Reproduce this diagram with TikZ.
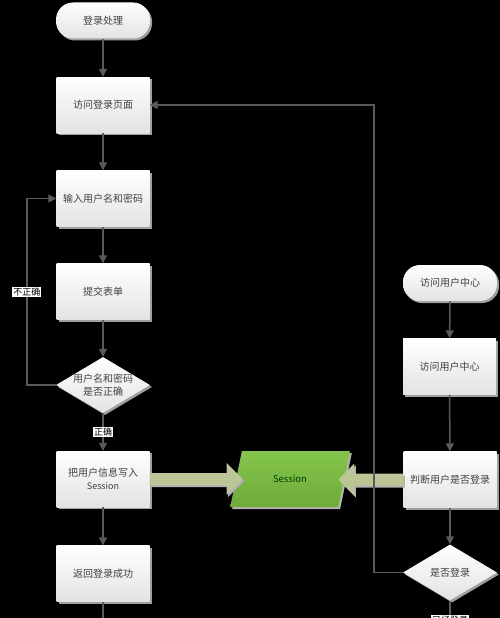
\documentclass[tikz,border=0pt]{standalone}
\usepackage{fontspec}
\setmainfont{Noto Sans CJK SC}
\usetikzlibrary{shapes.geometric,arrows.meta,shadows,calc}
\definecolor{linegray}{HTML}{5A5A5A}
\definecolor{txtgray}{HTML}{404040}
\definecolor{sessgreen}{HTML}{7DC242}
\definecolor{blockol}{HTML}{BCC596}
\begin{document}
\begin{tikzpicture}[x=1pt,y=-1pt,
  shade/.style={drop shadow={shadow xshift=2pt,shadow yshift=-2pt,fill=gray!75,opacity=1}},
  box/.style={rectangle,minimum width=93pt,minimum height=56pt,inner sep=0pt,
    top color=white,bottom color=gray!22,shade,text=txtgray,
    font=\fontsize{10}{13}\selectfont,align=center},
  term/.style={box,rounded corners=17pt,minimum width=94pt,minimum height=36pt},
  decision/.style={diamond,minimum width=94pt,minimum height=56pt,inner sep=0pt,
    top color=white,bottom color=gray!22,shade},
  dtext/.style={text=txtgray,font=\fontsize{10}{13}\selectfont,align=center},
  tag/.style={fill=white,text=black,inner sep=1pt,font=\fontsize{9}{10}\selectfont},
  link/.style={draw=linegray,line width=1.5pt},
  flow/.style={link,-{Triangle[width=8pt,length=8pt]}},
  blockarrow/.style={fill=blockol,drop shadow={shadow xshift=1.5pt,shadow yshift=-2pt,fill=gray!60,opacity=1}},
  datanode/.style={trapezium,trapezium left angle=61,trapezium right angle=119,
    trapezium stretches=true,minimum width=120pt,minimum height=56pt,inner sep=0pt,
    top color=sessgreen!95!white,bottom color=sessgreen!88!black,
    drop shadow={shadow xshift=2pt,shadow yshift=-2pt,fill=gray!60,opacity=1},
    text=black!75!green,font=\fontsize{9.5}{11}\selectfont}]
\fill[black] (0,0) rectangle (500,618);
\useasboundingbox (0,0) rectangle (500,618);

% left column
\node[term] (start) at (103,20.5) {登录处理};
\node[box] (v) at (103,105) {访问登录页面};
\node[box] (in) at (103,198.5) {输入用户名和密码};
\node[box] (sub) at (103,291.5) {提交表单};
\node[decision] (d1) at (103,385) {};
\node[dtext] at (d1.center) {用户名和密码\\是否正确};
\node[box] (w) at (103,479) {把用户信息写入\\{\fontsize{9}{11}\selectfont Session}};
\node[box] (ret) at (103,573.5) {返回登录成功};
\coordinate (retEnd) at (103,640);

% right column
\node[term] (ustart) at (450,283) {访问用户中心};
\node[box] (uc) at (449.5,366.5) {访问用户中心};
\node[box] (j) at (450,479.5) {判断用户是否登录};
\node[decision] (d2) at (450,572.5) {};
\node[dtext] at (d2.center) {是否登录};
\coordinate (d2End) at (450,640);

% session
\node[datanode] (s) at (290,479) {Session};

% block arrows
\fill[blockarrow] ($(w.east)+(0,-6)$) -- ++(77,0) -- ++(0,-10) -- ++(16,16) -- ++(-16,16) -- ++(0,-10) -- ++(-77,0) -- cycle;
\fill[blockarrow] ($(j.west)+(0,-6)$) -- ++(-49,0) -- ++(0,-10) -- ++(-16,16) -- ++(16,16) -- ++(0,-10) -- ++(49,0) -- cycle;

% connectors
\draw[flow] (start) -- (v);
\draw[flow] (v) -- (in);
\draw[flow] (in) -- (sub);
\draw[flow] (sub) -- (d1);
\draw[flow] (d1.south) -- (w.north) node[tag,midway] {正确};
\draw[flow] (d1.west) -- ++(-29,0) |- (in.west) node[tag,pos=0.25] {不正确};
\draw[flow] (w) -- (ret);
\draw[flow] (ret) -- (retEnd);

\draw[flow] (ustart) -- (uc);
\draw[flow] (uc) -- (j);
\draw[flow] (j) -- (d2);
\draw[flow] (d2.west) -- ++(-29,0) |- (v.east);
\draw[flow] (d2.south) -- (d2End) node[tag,pos=0.5] {已经登录};
\end{tikzpicture}
\end{document}
